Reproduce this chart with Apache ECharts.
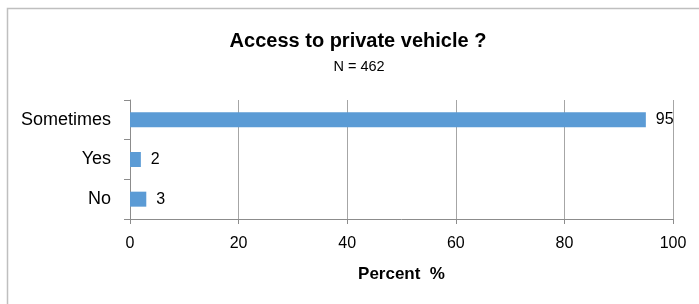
<!DOCTYPE html>
<html>
<head>
<meta charset="utf-8">
<style>
html, body { margin: 0; padding: 0; background: #fff; }
#chart { width: 699px; height: 304px; }
</style>
</head>
<body>
<div id="chart"></div>
<script src="https://cdn.jsdelivr.net/npm/echarts@6/dist/echarts.min.js"></script>
<script type="text/javascript">
// values (bottom to top on the category axis)
var categories = ['No', 'Yes', 'Sometimes'];
var percents = [3, 2, 95];
var xTicks = [0, 20, 40, 60, 80, 100];

var font = '"Liberation Sans", Arial, sans-serif';
var chart = echarts.init(document.getElementById('chart'));

var option = {
    animation: false,
    textStyle: { fontFamily: font },
    title: [
        {
            text: 'Access to private vehicle ?',
            left: 358,
            top: 31,
            padding: 0,
            textAlign: 'center',
            textStyle: { fontSize: 20, fontWeight: 'bold', color: '#000', fontFamily: font }
        },
        {
            text: 'N = 462',
            left: 359,
            top: 59,
            padding: 0,
            textAlign: 'center',
            textStyle: { fontSize: 14.5, fontWeight: 'normal', color: '#000', fontFamily: font }
        }
    ],
    graphic: [
        {
            type: 'rect',
            shape: { x: 7.5, y: 8.5, width: 800, height: 400 },
            style: { fill: 'none', stroke: '#bfbfbf', lineWidth: 1.5 },
            silent: true
        }
    ],
    grid: {
        left: 130,
        right: 26,
        top: 100,
        height: 119
    },
    xAxis: {
        type: 'value',
        min: xTicks[0],
        max: xTicks[xTicks.length - 1],
        interval: 20,
        name: 'Percent  %',
        nameLocation: 'middle',
        nameGap: 47,
        nameTextStyle: { fontSize: 17, fontWeight: 'bold', color: '#000' },
        axisLine: { show: true, lineStyle: { color: '#8c8c8c', width: 1 } },
        axisTick: { show: true, length: 5, lineStyle: { color: '#8c8c8c' } },
        axisLabel: { fontSize: 16, color: '#000', margin: 17 },
        splitLine: { show: true, lineStyle: { color: '#a6a6a6', width: 1 } }
    },
    yAxis: {
        type: 'category',
        data: categories,
        axisLine: { show: true, lineStyle: { color: '#8c8c8c', width: 1 } },
        axisTick: { show: true, length: 6, lineStyle: { color: '#8c8c8c' } },
        axisLabel: { fontSize: 18, color: '#000', margin: 19 },
        splitLine: { show: false }
    },
    series: [
        {
            type: 'bar',
            data: percents,
            barWidth: 15,
            itemStyle: { color: '#5b9bd5' },
            label: {
                show: true,
                position: 'right',
                distance: 10,
                fontSize: 16,
                color: '#000'
            }
        }
    ]
};

chart.setOption(option);
</script>
</body>
</html>
